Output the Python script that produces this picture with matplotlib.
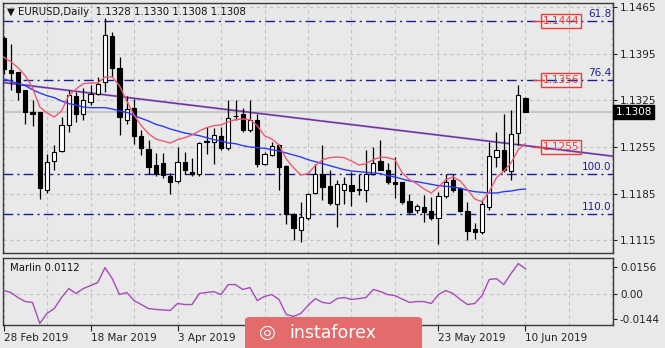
import matplotlib
matplotlib.use('Agg')
import matplotlib.pyplot as plt
from matplotlib.patches import FancyBboxPatch
import matplotlib.transforms as mtransforms

# EURUSD daily candles, 28 Feb 2019 .. 10 Jun 2019 (bar index 0..72)
opens = [1.1418, 1.1370, 1.1367, 1.1340, 1.1307, 1.1307, 1.1190, 1.1234, 1.1249, 1.1288,
         1.1332, 1.1305, 1.1322, 1.1335, 1.1352, 1.1422, 1.1374, 1.1296, 1.1314, 1.1271,
         1.1252, 1.1228, 1.1231, 1.1211, 1.1204, 1.1233, 1.1218, 1.1215, 1.1264, 1.1263,
         1.1271, 1.1253, 1.1301, 1.1304, 1.1280, 1.1295, 1.1230, 1.1243, 1.1258, 1.1226,
         1.1155, 1.1131, 1.1148, 1.1186, 1.1215, 1.1197, 1.1170, 1.1190, 1.1198, 1.1191,
         1.1190, 1.1214, 1.1234, 1.1221, 1.1203, 1.1202, 1.1174, 1.1160, 1.1165, 1.1159,
         1.1148, 1.1181, 1.1205, 1.1193, 1.1159, 1.1132, 1.1128, 1.1165, 1.1240, 1.1250,
         1.1219, 1.1276, 1.1328]
highs = [1.1422, 1.1410, 1.1368, 1.1341, 1.1326, 1.1308, 1.1245, 1.1258, 1.1300, 1.1340,
         1.1337, 1.1343, 1.1348, 1.1360, 1.1448, 1.1428, 1.1390, 1.1331, 1.1327, 1.1281,
         1.1265, 1.1246, 1.1246, 1.1216, 1.1255, 1.1248, 1.1238, 1.1263, 1.1285, 1.1283,
         1.1285, 1.1325, 1.1325, 1.1313, 1.1325, 1.1305, 1.1248, 1.1263, 1.1260, 1.1228,
         1.1156, 1.1173, 1.1186, 1.1230, 1.1258, 1.1220, 1.1205, 1.1210, 1.1218, 1.1215,
         1.1250, 1.1255, 1.1265, 1.1231, 1.1240, 1.1203, 1.1185, 1.1169, 1.1183, 1.1180,
         1.1188, 1.1214, 1.1214, 1.1195, 1.1173, 1.1141, 1.1175, 1.1263, 1.1278, 1.1305,
         1.1310, 1.1348, 1.1330]
lows = [1.1365, 1.1340, 1.1326, 1.1290, 1.1286, 1.1177, 1.1186, 1.1221, 1.1248, 1.1278,
        1.1293, 1.1296, 1.1318, 1.1333, 1.1337, 1.1360, 1.1273, 1.1290, 1.1260, 1.1243,
        1.1215, 1.1211, 1.1208, 1.1184, 1.1201, 1.1215, 1.1211, 1.1211, 1.1245, 1.1230,
        1.1251, 1.1251, 1.1295, 1.1278, 1.1278, 1.1225, 1.1228, 1.1241, 1.1190, 1.1140,
        1.1116, 1.1113, 1.1145, 1.1185, 1.1175, 1.1168, 1.1135, 1.1170, 1.1166, 1.1183,
        1.1173, 1.1213, 1.1221, 1.1200, 1.1178, 1.1170, 1.1155, 1.1156, 1.1143, 1.1146,
        1.1110, 1.1178, 1.1188, 1.1158, 1.1115, 1.1117, 1.1125, 1.1160, 1.1225, 1.1218,
        1.1206, 1.1258, 1.1308]
closes = [1.1372, 1.1366, 1.1338, 1.1308, 1.1305, 1.1193, 1.1233, 1.1248, 1.1288, 1.1333,
          1.1305, 1.1325, 1.1335, 1.1350, 1.1423, 1.1373, 1.1300, 1.1312, 1.1272, 1.1253,
          1.1225, 1.1215, 1.1213, 1.1203, 1.1232, 1.1220, 1.1214, 1.1261, 1.1262, 1.1273,
          1.1253, 1.1298, 1.1302, 1.1280, 1.1296, 1.1230, 1.1244, 1.1256, 1.1225, 1.1154,
          1.1133, 1.1150, 1.1185, 1.1215, 1.1195, 1.1171, 1.1200, 1.1199, 1.1189, 1.1191,
          1.1215, 1.1231, 1.1221, 1.1203, 1.1200, 1.1173, 1.1158, 1.1166, 1.1158, 1.1149,
          1.1181, 1.1203, 1.1191, 1.1159, 1.1129, 1.1128, 1.1169, 1.1241, 1.1251, 1.1220,
          1.1275, 1.1333, 1.1308]

# moving averages
ma_red = [1.1390, 1.1383, 1.1374, 1.1362, 1.1344, 1.1315, 1.1306, 1.1300, 1.1309, 1.1332,
          1.1342, 1.1350, 1.1351, 1.1351, 1.1360, 1.1360, 1.1347, 1.1324, 1.1303, 1.1287,
          1.1275, 1.1267, 1.1264, 1.1261, 1.1266, 1.1269, 1.1273, 1.1279, 1.1284, 1.1287,
          1.1288, 1.1293, 1.1296, 1.1297, 1.1296, 1.1287, 1.1272, 1.1267, 1.1258, 1.1237,
          1.1224, 1.1213, 1.1215, 1.1227, 1.1236, 1.1239, 1.1240, 1.1239, 1.1234, 1.1228,
          1.1230, 1.1236, 1.1240, 1.1239, 1.1236, 1.1216, 1.1206, 1.1200, 1.1192, 1.1186,
          1.1195, 1.1206, 1.1210, 1.1204, 1.1191, 1.1177, 1.1173, 1.1188, 1.1209, 1.1219,
          1.1231, 1.1251, 1.1260]
ma_blue = [1.1357, 1.1354, 1.1350, 1.1347, 1.1341, 1.1336, 1.1332, 1.1329, 1.1324, 1.1320,
           1.1318, 1.1315, 1.1314, 1.1314, 1.1314, 1.1312, 1.1309, 1.1307, 1.1302, 1.1298,
           1.1294, 1.1289, 1.1286, 1.1282, 1.1279, 1.1276, 1.1274, 1.1272, 1.1269, 1.1266,
           1.1264, 1.1261, 1.1260, 1.1257, 1.1255, 1.1254, 1.1253, 1.1251, 1.1249, 1.1246,
           1.1243, 1.1240, 1.1236, 1.1233, 1.1230, 1.1227, 1.1224, 1.1221, 1.1219, 1.1218,
           1.1217, 1.1216, 1.1215, 1.1212, 1.1210, 1.1207, 1.1204, 1.1203, 1.1201, 1.1199,
           1.1197, 1.1196, 1.1195, 1.1193, 1.1190, 1.1188, 1.1187, 1.1186, 1.1186, 1.1188,
           1.1189, 1.1191, 1.1192]

marlin = [0.0020, 0.0009, -0.0020, -0.0043, -0.0048, -0.0168, -0.0111, -0.0083, -0.0020, 0.0031,
          0.0003, 0.0031, 0.0048, 0.0066, 0.0151, 0.0088, -0.0003, 0.0009, -0.0037, -0.0060,
          -0.0083, -0.0088, -0.0091, -0.0094, -0.0054, -0.0060, -0.0060, 0.0003, 0.0009, 0.0014,
          -0.0003, 0.0054, 0.0054, 0.0026, 0.0037, -0.0037, -0.0014, -0.0003, -0.0031, -0.0117,
          -0.0128, -0.0111, -0.0066, -0.0026, -0.0048, -0.0054, -0.0026, -0.0020, -0.0031, -0.0026,
          -0.0020, 0.0026, 0.0014, -0.0003, -0.0009, -0.0029, -0.0048, -0.0043, -0.0043, -0.0054,
          -0.0003, 0.0020, 0.0003, -0.0031, -0.0060, -0.0054, -0.0009, 0.0083, 0.0088, 0.0054,
          0.0117, 0.0174, 0.0145]

# labels at 36 and 48 sit under the watermark in the original, so only ticks there
date_ticks = [0, 12, 24, 36, 48, 60, 72]
date_labels = ['28 Feb 2019', '18 Mar 2019', '3 Apr 2019', '', '', '23 May 2019', '10 Jun 2019']
price_ticks = [1.1465, 1.1395, 1.1325, 1.1255, 1.1185, 1.1115]
marlin_ticks = [0.0156, 0.0, -0.0144]
marlin_labels = ['0.0156', '0.00', '-0.0144']

fib_levels = [1.1444, 1.1356, 1.1215, 1.1155]
fib_names = ['61.8', '76.4', '100.0', '110.0']
price_marks = [1.1444, 1.1356, 1.1255]
trend_x = [-1, 85]
trend_y = [1.1353, 1.1240]
last_close = 1.1308

bg = '#e9e9e9'
grid_c = '#c4c4c4'
fib_c = '#1c1c96'
mark_c = '#f03a3a'

plt.rcParams['font.family'] = ['DejaVu Sans']
fig = plt.figure(figsize=(6.65, 3.48), dpi=100, facecolor=bg)
ax = fig.add_axes([3/665, 1-253/348, 610/665, 250/348], facecolor=bg)
ax2 = fig.add_axes([3/665, 1-325/348, 610/665, 67/348], facecolor=bg)

xs = list(range(len(opens)))
xmin, xmax = -0.07, 84.07

# grid
for a in (ax, ax2):
    for gx in range(0, 85, 6):
        a.axvline(gx, color=grid_c, lw=0.8, ls=(0, (3, 3)), zorder=0)
for p in price_ticks:
    ax.axhline(p, color=grid_c, lw=0.8, ls=(0, (3, 3)), zorder=0)
ax2.axhline(0, color=grid_c, lw=0.8, ls=(0, (3, 3)), zorder=0)

# last price line
ax.axhline(last_close, color='#c8c8c8', lw=1.6, zorder=1)

# fibo levels
for lvl, name in zip(fib_levels, fib_names):
    ax.axhline(lvl, color=fib_c, lw=1.0, ls=(0, (7, 3, 1.5, 3)), zorder=1)
    ax.text(83.85, lvl + 0.0003, name, color=fib_c, fontsize=7.5,
            ha='right', va='bottom', zorder=5)

# trend line
ax.plot(trend_x, trend_y, color='#a583cc', lw=1.5, zorder=1.5, solid_capstyle='butt')
ax.plot(trend_x, trend_y, color='#6a2a9a', lw=0.8, zorder=1.6)

# candles
ax.vlines(xs, lows, highs, color='black', lw=0.9, zorder=2)
for i in xs:
    o, c = opens[i], closes[i]
    bottom = min(o, c)
    h = max(abs(c - o), 0.00004)
    fc = 'white' if c > o else 'black'
    ax.bar(i, h, bottom=bottom, width=0.6, color=fc, edgecolor='black',
           linewidth=0.8, zorder=3)

ax.plot(xs, ma_blue, color='#2a3cf5', lw=1.0, zorder=4)
ax.plot(xs, ma_red, color='#ee5a74', lw=1.0, zorder=4)

# price marks
for p in price_marks:
    ax.plot([73.0, 74.5], [p, p], color=mark_c, lw=1.0, zorder=5)
    ax.text(76.9, p, '%.4f' % p, color=mark_c, fontsize=7.5, ha='center', va='center',
            zorder=6, bbox=dict(boxstyle='square,pad=0.18', fc='none', ec=mark_c, lw=1.0))

ax.set_xlim(xmin, xmax)
ax.set_ylim(1.1096, 1.1471)
ax.yaxis.tick_right()
ax.set_yticks(price_ticks)
ax.set_yticklabels(['%.4f' % p for p in price_ticks])
ax.set_xticks([])
ax.tick_params(axis='y', direction='out', length=3, width=0.8, labelsize=7.5,
               colors='#222222', pad=2)

# current price box
trans = mtransforms.blended_transform_factory(ax.transAxes, ax.transData)
ax.text(1.004, last_close, '1.1308', transform=trans, color='white', fontsize=7.5,
        ha='left', va='center', zorder=10, clip_on=False,
        bbox=dict(boxstyle='square,pad=0.2', fc='black', ec='black'))

ax.text(0.006, 0.985, '\u25BC EURUSD,Daily  1.1328 1.1330 1.1308 1.1308',
        transform=ax.transAxes, fontsize=7.3, ha='left', va='top', color='#111111')

# Marlin indicator
ax2.plot(xs, marlin, color='#a54cb8', lw=1.0, zorder=3)
ax2.set_xlim(xmin, xmax)
ax2.set_ylim(-0.0177, 0.0206)
ax2.yaxis.tick_right()
ax2.set_yticks(marlin_ticks)
ax2.set_yticklabels(marlin_labels)
ax2.set_xticks(date_ticks)
ax2.set_xticklabels(date_labels, ha='left')
ax2.tick_params(axis='y', direction='out', length=3, width=0.8, labelsize=7.5,
                colors='#222222', pad=2)
ax2.tick_params(axis='x', direction='out', length=4, width=0.8, labelsize=7.5,
                colors='#222222', pad=2)
ax2.text(0.012, 0.92, 'Marlin 0.0112', transform=ax2.transAxes, fontsize=7.3,
         ha='left', va='top', color='#111111')

for a in (ax, ax2):
    for s in a.spines.values():
        s.set_color('#3a3a3a')
        s.set_linewidth(1.0)

# watermark
wm = FancyBboxPatch((245/665, -0.02), 177/665, 0.02 + 31/348,
                    boxstyle='round,pad=0,rounding_size=0.008',
                    transform=fig.transFigure, fc='#e46b6b', ec='none', zorder=20)
fig.patches.append(wm)
fig.text(333/665, 1 - 333/348, 'instaforex', color='white', fontsize=12.5,
         ha='center', va='center', zorder=21)
fig.text(267/665, 1 - 332/348, '\u25CE', color='white', fontsize=14,
         ha='center', va='center', zorder=21)

fig.savefig('out.png', dpi=100, facecolor=bg)
